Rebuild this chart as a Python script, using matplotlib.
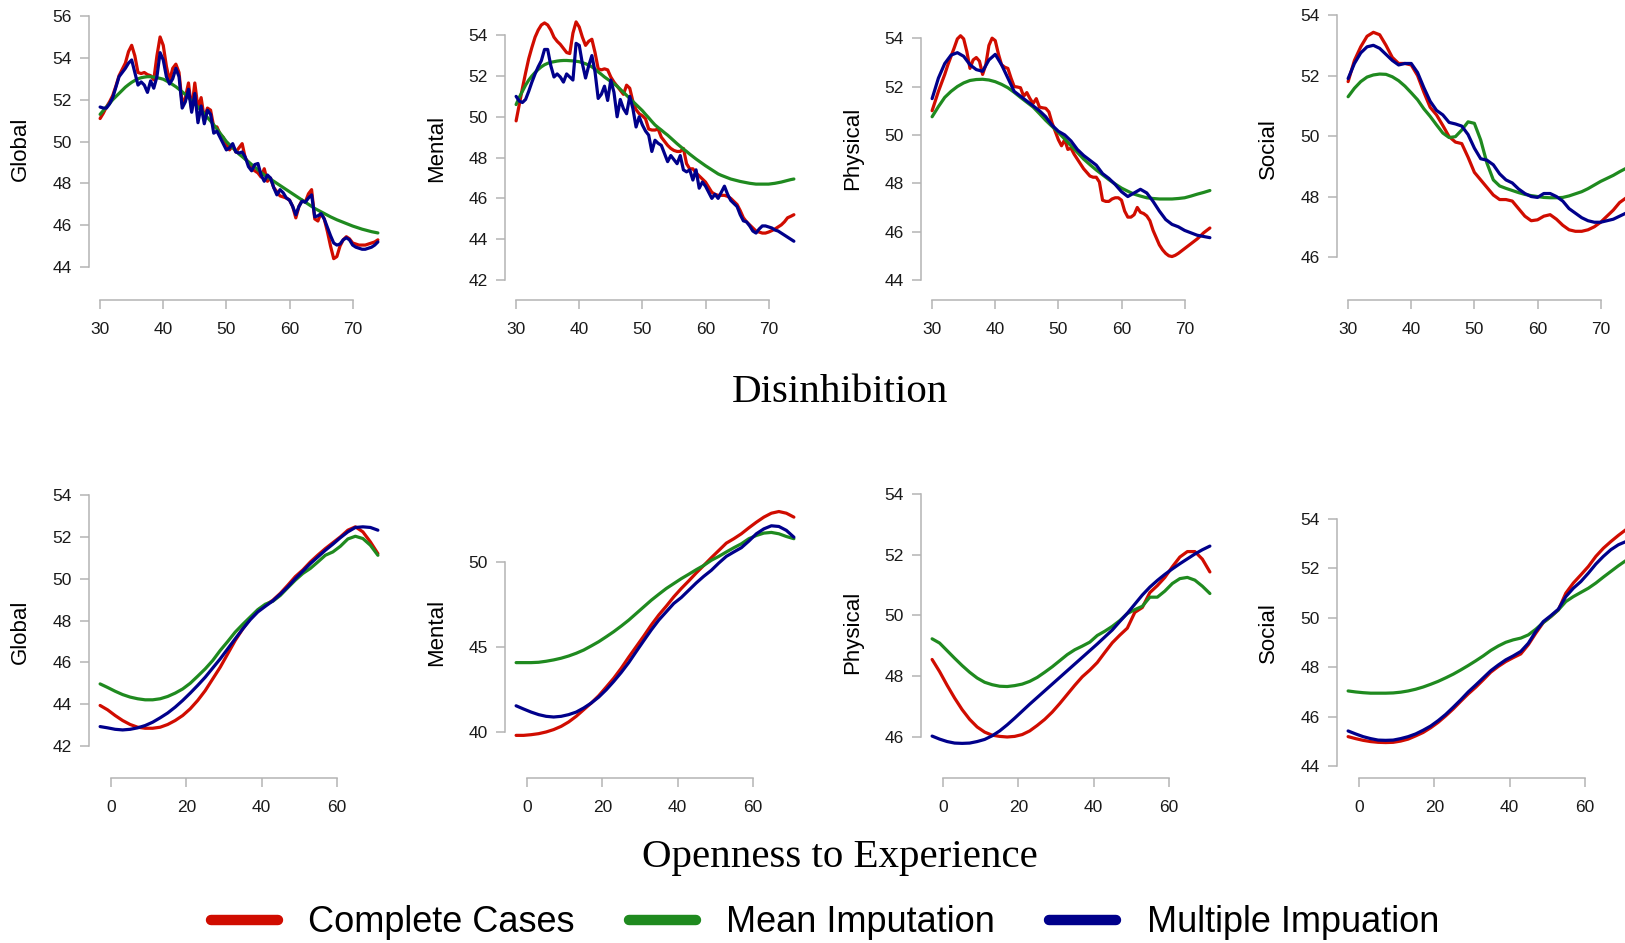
import matplotlib
matplotlib.use("Agg")
import matplotlib.pyplot as plt
from matplotlib.lines import Line2D
import numpy as np

plt.rcParams['font.family'] = ['Liberation Sans', 'DejaVu Sans']

# x grids the curves were evaluated on
dis_x_fine = np.arange(30, 74.01, 0.5)   # Disinhibition, wiggly curves
dis_x = np.arange(30, 75, 1)             # Disinhibition, smoother curves
opn_x = np.arange(-3, 72, 2)             # Openness to Experience

# ---- Disinhibition ----
glob_dis_cc = [51.10, 51.35, 51.65, 51.90, 52.20, 52.65, 53.15, 53.45, 53.75, 54.30,
               54.60, 54.10, 53.30, 53.25, 53.30, 53.20, 53.15, 52.95, 54.10, 55.00,
               54.60, 53.60, 52.90, 53.50, 53.70, 53.30, 51.80, 52.10, 52.80, 51.50,
               52.80, 51.60, 52.10, 51.10, 51.60, 51.50, 50.70, 50.70, 50.35, 50.20,
               49.90, 49.60, 49.80, 49.50, 49.70, 49.90, 49.20, 49.00, 48.70, 48.60,
               48.50, 48.30, 48.70, 48.10, 48.25, 47.80, 47.60, 47.40, 47.35, 47.30,
               47.20, 46.90, 46.35, 46.90, 47.20, 47.10, 47.50, 47.70, 46.30, 46.20,
               46.60, 46.30, 45.70, 45.00, 44.40, 44.50, 45.00, 45.30, 45.45, 45.35,
               45.15, 45.10, 45.05, 45.05, 45.05, 45.10, 45.15, 45.20, 45.30]
glob_dis_mean = [51.30, 51.48, 51.65, 51.82, 52.00, 52.15, 52.30, 52.45, 52.60, 52.72,
                 52.83, 52.92, 53.00, 53.05, 53.08, 53.10, 53.10, 53.08, 53.05, 53.02,
                 52.98, 52.90, 52.82, 52.72, 52.62, 52.50, 52.38, 52.25, 52.10, 51.95,
                 51.80, 51.65, 51.50, 51.33, 51.15, 50.98, 50.80, 50.60, 50.40, 50.20,
                 50.00, 49.85, 49.70, 49.55, 49.40, 49.28, 49.15, 49.03, 48.90, 48.78,
                 48.65, 48.52, 48.40, 48.30, 48.20, 48.10, 48.00, 47.90, 47.80, 47.70,
                 47.60, 47.50, 47.40, 47.30, 47.20, 47.10, 47.00, 46.90, 46.80, 46.72,
                 46.64, 46.56, 46.48, 46.40, 46.33, 46.26, 46.20, 46.14, 46.08, 46.02,
                 45.96, 45.91, 45.86, 45.81, 45.77, 45.73, 45.69, 45.66, 45.63]
glob_dis_mi = [51.65, 51.60, 51.60, 51.80, 52.10, 52.60, 53.10, 53.30, 53.50, 53.75,
               53.90, 53.30, 52.70, 52.85, 52.70, 52.35, 52.90, 52.55, 53.10, 54.25,
               53.90, 53.10, 52.75, 53.00, 53.50, 53.10, 51.60, 51.90, 52.50, 51.40,
               52.30, 50.90, 51.70, 50.85, 51.50, 51.30, 50.40, 50.50, 50.20, 49.90,
               49.60, 49.70, 49.90, 49.50, 49.45, 49.50, 49.25, 48.80, 48.60, 48.90,
               48.95, 48.40, 48.10, 48.40, 48.25, 47.80, 47.45, 47.70, 47.55, 47.30,
               47.20, 46.90, 46.50, 46.90, 47.15, 47.10, 47.30, 47.45, 46.40, 46.45,
               46.55, 46.30, 45.90, 45.50, 45.15, 45.05, 45.10, 45.30, 45.40, 45.30,
               45.05, 44.95, 44.90, 44.85, 44.85, 44.90, 44.95, 45.05, 45.20]

ment_dis_cc = [49.80, 50.60, 51.40, 52.15, 52.85, 53.40, 53.90, 54.25, 54.50, 54.60,
               54.50, 54.25, 53.90, 53.70, 53.55, 53.35, 53.15, 53.10, 54.10, 54.65,
               54.40, 53.90, 53.50, 53.70, 53.80, 53.15, 52.35, 52.30, 52.35, 52.30,
               51.95, 51.70, 51.50, 51.30, 51.10, 51.55, 51.40, 50.75, 50.35, 50.15,
               50.05, 49.90, 49.40, 49.35, 49.35, 49.40, 49.00, 48.80, 48.60, 48.45,
               48.35, 48.30, 48.30, 48.45, 47.70, 47.45, 47.45, 47.25, 47.10, 46.95,
               46.80, 46.55, 46.30, 46.20, 46.15, 46.15, 46.15, 46.10, 46.00, 45.85,
               45.70, 45.40, 45.05, 44.85, 44.70, 44.55, 44.40, 44.35, 44.30, 44.30,
               44.35, 44.42, 44.50, 44.60, 44.70, 44.85, 45.05, 45.12, 45.20]
ment_dis_mean = [50.60, 50.95, 51.25, 51.55, 51.80, 52.00, 52.17, 52.32, 52.45, 52.55,
                 52.62, 52.67, 52.70, 52.73, 52.75, 52.76, 52.76, 52.75, 52.74, 52.72,
                 52.70, 52.65, 52.60, 52.53, 52.45, 52.33, 52.20, 52.08, 51.95, 51.84,
                 51.73, 51.62, 51.50, 51.35, 51.20, 51.05, 50.90, 50.75, 50.60, 50.45,
                 50.30, 50.12, 49.95, 49.77, 49.60, 49.47, 49.35, 49.22, 49.10, 48.96,
                 48.82, 48.68, 48.55, 48.42, 48.30, 48.17, 48.05, 47.93, 47.82, 47.71,
                 47.60, 47.50, 47.40, 47.30, 47.20, 47.13, 47.07, 47.01, 46.95, 46.91,
                 46.87, 46.83, 46.80, 46.77, 46.74, 46.72, 46.70, 46.70, 46.70, 46.70,
                 46.70, 46.72, 46.74, 46.77, 46.80, 46.84, 46.88, 46.92, 46.95]
ment_dis_mi = [51.00, 50.77, 50.70, 50.85, 51.25, 51.70, 52.10, 52.45, 52.75, 53.30,
               53.30, 52.50, 51.95, 52.10, 51.95, 51.70, 52.10, 51.95, 51.80, 53.60,
               53.50, 52.60, 51.90, 52.50, 53.00, 52.20, 50.90, 51.10, 51.50, 50.80,
               51.80, 51.20, 50.00, 50.85, 50.40, 50.15, 51.00, 50.40, 49.50, 50.00,
               49.60, 49.30, 49.10, 48.30, 48.85, 48.70, 48.60, 48.20, 47.80, 48.10,
               47.90, 47.70, 48.10, 47.40, 47.30, 47.40, 46.90, 47.40, 46.50, 46.80,
               46.60, 46.30, 46.00, 46.20, 46.00, 46.30, 46.60, 46.20, 45.90, 45.75,
               45.60, 45.20, 44.90, 44.85, 44.65, 44.40, 44.30, 44.50, 44.65, 44.65,
               44.60, 44.55, 44.45, 44.40, 44.30, 44.20, 44.10, 44.00, 43.90]

# complete cases on the fine grid, the other two on the 1-unit grid
phys_dis_cc = [51.0, 51.4, 51.8, 52.15, 52.5, 52.9, 53.25, 53.6, 53.97, 54.1,
               53.97, 53.45, 52.75, 53.1, 53.2, 53.05, 52.5, 52.9, 53.7, 54.0,
               53.9, 53.35, 52.9, 52.8, 52.75, 52.35, 52.0, 51.98, 51.95, 51.6,
               51.75, 51.5, 51.3, 51.5, 51.15, 51.12, 51.1, 50.95, 50.5, 50.15,
               49.8, 49.55, 49.8, 49.4, 49.45, 49.2, 49.0, 48.8, 48.6, 48.45,
               48.3, 48.25, 48.25, 48.05, 47.3, 47.25, 47.25, 47.35, 47.4, 47.4,
               47.3, 46.85, 46.6, 46.6, 46.7, 47.0, 46.8, 46.75, 46.65, 46.45,
               46.05, 45.75, 45.45, 45.25, 45.1, 45.0, 44.97, 45.02, 45.1, 45.2,
               45.3, 45.4, 45.5, 45.6, 45.7, 45.82, 45.95, 46.05, 46.15]
phys_dis_mean = [50.75, 51.17, 51.55, 51.8, 52.0, 52.15, 52.25, 52.29, 52.3, 52.27,
                 52.2, 52.09, 51.95, 51.76, 51.55, 51.35, 51.15, 50.88, 50.6, 50.35,
                 50.1, 49.83, 49.55, 49.28, 49.0, 48.77, 48.55, 48.35, 48.15, 47.97,
                 47.8, 47.67, 47.55, 47.47, 47.4, 47.37, 47.35, 47.35, 47.35, 47.37,
                 47.4, 47.47, 47.55, 47.62, 47.7]
phys_dis_mi = [51.5, 52.35, 52.95, 53.3, 53.4, 53.25, 52.9, 52.7, 52.63, 53.1,
               53.33, 52.9, 52.35, 51.8, 51.6, 51.4, 51.2, 51.0, 50.75, 50.4,
               50.15, 50.0, 49.75, 49.4, 49.15, 48.95, 48.75, 48.4, 48.2, 47.95,
               47.65, 47.45, 47.6, 47.75, 47.6, 47.25, 46.85, 46.5, 46.3, 46.2,
               46.05, 45.95, 45.85, 45.8, 45.75]

soc_dis_cc = [51.8, 52.5, 52.95, 53.3, 53.43, 53.35, 53.0, 52.6, 52.4, 52.4,
              52.35, 52.0, 51.45, 50.95, 50.7, 50.35, 49.98, 49.8, 49.75, 49.3,
              48.8, 48.55, 48.3, 48.05, 47.9, 47.9, 47.85, 47.6, 47.35, 47.2,
              47.23, 47.35, 47.4, 47.25, 47.05, 46.9, 46.85, 46.85, 46.9, 47.0,
              47.15, 47.35, 47.55, 47.8, 47.95]
soc_dis_mean = [51.3, 51.58, 51.8, 51.95, 52.02, 52.05, 52.04, 51.96, 51.83, 51.65,
                51.43, 51.2, 50.9, 50.65, 50.37, 50.1, 49.95, 49.98, 50.2, 50.47,
                50.42, 49.87, 49.1, 48.55, 48.35, 48.27, 48.2, 48.13, 48.07, 48.03,
                48.0, 47.97, 47.96, 47.96, 47.97, 48.02, 48.09, 48.16, 48.26, 48.38,
                48.5, 48.6, 48.7, 48.82, 48.93]
soc_dis_mi = [51.9, 52.4, 52.75, 52.95, 53.0, 52.9, 52.7, 52.5, 52.35, 52.4,
              52.4, 52.1, 51.6, 51.15, 50.85, 50.7, 50.45, 50.4, 50.33, 50.05,
              49.6, 49.25, 49.2, 49.05, 48.75, 48.55, 48.45, 48.25, 48.1, 48.0,
              47.97, 48.1, 48.1, 48.0, 47.85, 47.6, 47.45, 47.3, 47.2, 47.15,
              47.15, 47.2, 47.25, 47.35, 47.45]

# ---- Openness to Experience ----
glob_opn_cc = [43.94, 43.73, 43.46, 43.22, 43.03, 42.90, 42.85, 42.85, 42.90, 43.03,
               43.22, 43.46, 43.78, 44.18, 44.65, 45.21, 45.77, 46.41, 47.05, 47.60,
               48.09, 48.49, 48.73, 48.97, 49.30, 49.69, 50.10, 50.42, 50.80, 51.13,
               51.44, 51.72, 52.00, 52.32, 52.48, 52.24, 51.76, 51.20]
glob_opn_mean = [44.97, 44.80, 44.62, 44.46, 44.34, 44.26, 44.21, 44.21, 44.26, 44.37,
                 44.53, 44.73, 45.00, 45.34, 45.69, 46.09, 46.57, 47.00, 47.45, 47.82,
                 48.17, 48.52, 48.78, 48.92, 49.20, 49.57, 49.93, 50.25, 50.49, 50.80,
                 51.12, 51.28, 51.55, 51.90, 52.03, 51.92, 51.60, 51.12]
glob_opn_mi = [42.93, 42.87, 42.80, 42.77, 42.80, 42.87, 42.98, 43.14, 43.35, 43.58,
               43.86, 44.18, 44.53, 44.90, 45.29, 45.73, 46.17, 46.65, 47.13, 47.60,
               48.04, 48.41, 48.68, 48.94, 49.26, 49.61, 50.00, 50.36, 50.72, 51.04,
               51.36, 51.65, 51.96, 52.24, 52.45, 52.48, 52.45, 52.32]

ment_opn_cc = [39.80, 39.80, 39.84, 39.90, 40.00, 40.14, 40.33, 40.59, 40.92, 41.31,
               41.70, 42.13, 42.64, 43.16, 43.75, 44.40, 45.02, 45.64, 46.29, 46.88,
               47.40, 47.95, 48.44, 48.89, 49.36, 49.80, 50.25, 50.68, 51.11, 51.37,
               51.66, 52.01, 52.34, 52.64, 52.87, 52.97, 52.87, 52.64]
ment_opn_mean = [44.08, 44.08, 44.08, 44.10, 44.16, 44.24, 44.34, 44.47, 44.63, 44.82,
                 45.06, 45.31, 45.60, 45.90, 46.23, 46.58, 46.97, 47.36, 47.75, 48.10,
                 48.44, 48.73, 49.02, 49.28, 49.55, 49.80, 50.10, 50.33, 50.59, 50.84,
                 51.07, 51.37, 51.56, 51.70, 51.74, 51.66, 51.50, 51.37]
ment_opn_mi = [41.54, 41.35, 41.17, 41.02, 40.92, 40.88, 40.92, 41.02, 41.17, 41.41,
               41.70, 42.05, 42.48, 42.97, 43.50, 44.08, 44.73, 45.37, 46.00, 46.58,
               47.07, 47.56, 47.91, 48.34, 48.77, 49.16, 49.51, 49.94, 50.33, 50.59,
               50.84, 51.23, 51.66, 51.95, 52.13, 52.09, 51.86, 51.46]

phys_opn_cc = [48.55, 48.15, 47.70, 47.28, 46.90, 46.58, 46.33, 46.16, 46.06, 46.02,
               46.00, 46.02, 46.08, 46.20, 46.38, 46.58, 46.82, 47.10, 47.40, 47.70,
               47.98, 48.20, 48.45, 48.78, 49.10, 49.35, 49.58, 50.10, 50.26, 50.75,
               50.98, 51.25, 51.60, 51.92, 52.10, 52.10, 51.85, 51.43]
phys_opn_mean = [49.23, 49.09, 48.84, 48.59, 48.35, 48.13, 47.94, 47.80, 47.72, 47.67,
                 47.66, 47.69, 47.74, 47.83, 47.96, 48.13, 48.31, 48.51, 48.71, 48.87,
                 48.99, 49.12, 49.34, 49.48, 49.64, 49.83, 50.06, 50.19, 50.30, 50.60,
                 50.60, 50.80, 51.05, 51.21, 51.25, 51.16, 50.96, 50.72]
phys_opn_mi = [46.03, 45.93, 45.85, 45.80, 45.79, 45.80, 45.85, 45.92, 46.04, 46.20,
               46.40, 46.62, 46.85, 47.08, 47.30, 47.52, 47.74, 47.96, 48.18, 48.40,
               48.62, 48.84, 49.06, 49.29, 49.52, 49.80, 50.07, 50.37, 50.67, 50.93,
               51.15, 51.35, 51.53, 51.70, 51.86, 52.02, 52.16, 52.28]

soc_opn_cc = [45.19, 45.11, 45.04, 44.99, 44.96, 44.95, 44.96, 45.01, 45.09, 45.22,
              45.36, 45.55, 45.77, 46.03, 46.31, 46.62, 46.92, 47.19, 47.49, 47.80,
              48.03, 48.23, 48.39, 48.54, 48.91, 49.38, 49.81, 50.05, 50.32, 51.00,
              51.41, 51.74, 52.08, 52.49, 52.82, 53.09, 53.34, 53.57]
soc_opn_mean = [47.04, 47.00, 46.97, 46.95, 46.95, 46.95, 46.96, 46.99, 47.04, 47.11,
                47.20, 47.31, 47.43, 47.57, 47.72, 47.89, 48.07, 48.26, 48.46, 48.68,
                48.86, 49.01, 49.11, 49.18, 49.31, 49.54, 49.81, 50.05, 50.32, 50.66,
                50.86, 51.03, 51.20, 51.41, 51.65, 51.88, 52.11, 52.32]
soc_opn_mi = [45.42, 45.30, 45.19, 45.11, 45.05, 45.04, 45.05, 45.11, 45.19, 45.30,
              45.45, 45.62, 45.84, 46.09, 46.38, 46.68, 47.00, 47.28, 47.57, 47.86,
              48.09, 48.30, 48.46, 48.64, 48.97, 49.45, 49.85, 50.09, 50.35, 50.86,
              51.20, 51.47, 51.81, 52.18, 52.49, 52.76, 52.96, 53.09]

outcomes = ['Global', 'Mental', 'Physical', 'Social']
methods = ['Complete Cases', 'Mean Imputation', 'Multiple Impuation']
colors = ['#D00C00', '#1F8A1F', '#00008B']

dis_ticks_x = [30, 40, 50, 60, 70]
opn_ticks_x = [0, 20, 40, 60]

# each panel: [(x, y) per method], y limits, y ticks
top_row = [
    ([(dis_x_fine, glob_dis_cc), (dis_x_fine, glob_dis_mean), (dis_x_fine, glob_dis_mi)],
     (43.38, 56.48), [44, 46, 48, 50, 52, 54, 56]),
    ([(dis_x_fine, ment_dis_cc), (dis_x_fine, ment_dis_mean), (dis_x_fine, ment_dis_mi)],
     (42.33, 55.43), [42, 44, 46, 48, 50, 52, 54]),
    ([(dis_x_fine, phys_dis_cc), (dis_x, phys_dis_mean), (dis_x, phys_dis_mi)],
     (44.28, 55.33), [44, 46, 48, 50, 52, 54]),
    ([(dis_x, soc_dis_cc), (dis_x, soc_dis_mean), (dis_x, soc_dis_mi)],
     (45.24, 54.30), [46, 48, 50, 52, 54]),
]
bottom_row = [
    ([(opn_x, glob_opn_cc), (opn_x, glob_opn_mean), (opn_x, glob_opn_mi)],
     (40.95, 54.48), [42, 44, 46, 48, 50, 52, 54]),
    ([(opn_x, ment_opn_cc), (opn_x, ment_opn_mean), (opn_x, ment_opn_mi)],
     (37.88, 54.53), [40, 45, 50]),
    ([(opn_x, phys_opn_cc), (opn_x, phys_opn_mean), (opn_x, phys_opn_mi)],
     (44.98, 54.29), [46, 48, 50, 52, 54]),
    ([(opn_x, soc_opn_cc), (opn_x, soc_opn_mean), (opn_x, soc_opn_mi)],
     (43.92, 55.38), [44, 46, 48, 50, 52, 54]),
]

W, H = 1625, 943
fig = plt.figure(figsize=(W / 100, H / 100), dpi=100)

AXIS_GRAY = '#b4b4b4'
col_left = [89, 505, 921, 1337]
panel_w = 300


def add_panel(left, top, height, series, ylim, yticks, xlim, xticks, drop, label):
    ax = fig.add_axes([left / W, 1 - (top + height) / H, panel_w / W, height / H])
    for (x, ys), c in zip(series, colors):
        ax.plot(x, ys, color=c, lw=2.3, solid_capstyle='round', solid_joinstyle='round')
    ax.set_xlim(xlim)
    ax.set_ylim(ylim)
    ax.set_xticks(xticks)
    ax.set_yticks(yticks)
    for s in ['top', 'right']:
        ax.spines[s].set_visible(False)
    for s in ['left', 'bottom']:
        ax.spines[s].set_color(AXIS_GRAY)
        ax.spines[s].set_linewidth(1.1)
    ax.spines['left'].set_bounds(yticks[0], yticks[-1])
    ax.spines['bottom'].set_bounds(xticks[0], xticks[-1])
    ax.spines['bottom'].set_position(('outward', drop))
    ax.tick_params(color=AXIS_GRAY, labelcolor='#1a1a1a', length=6.5, width=1.1,
                   labelsize=12.5)
    ax.tick_params(axis='y', pad=6)
    ax.tick_params(axis='x', pad=9.5)
    ax.patch.set_alpha(0)
    # y-axis title, centred on the panel
    fig.text((left - 68.5) / W, 1 - (top + height * 0.52) / H, label,
             rotation=90, ha='center', va='center', fontsize=16)
    return ax


for i, (series, ylim, yticks) in enumerate(top_row):
    add_panel(col_left[i], 6, 274, series, ylim, yticks,
              (28.24, 75.76), dis_ticks_x, 14.4, outcomes[i])

for i, (series, ylim, yticks) in enumerate(bottom_row):
    add_panel(col_left[i], 485, 283, series, ylim, yticks,
              (-5.96, 73.96), opn_ticks_x, 7.2, outcomes[i])

# row titles
fig.text(840 / W, 1 - 392 / H, 'Disinhibition', ha='center', va='center',
         fontsize=29.5, family=['Liberation Serif', 'DejaVu Serif'])
fig.text(840 / W, 1 - 857 / H, 'Openness to Experience', ha='center', va='center',
         fontsize=29.5, family=['Liberation Serif', 'DejaVu Serif'])

handles = [Line2D([0], [0], color=c, lw=7.5, solid_capstyle='round') for c in colors]
fig.legend(handles, methods, loc='center', bbox_to_anchor=(825 / W, 1 - 923 / H),
           ncol=3, frameon=False, fontsize=26, handlelength=1.85,
           handletextpad=0.85, columnspacing=1.5)

fig.savefig('out.png', dpi=100)
